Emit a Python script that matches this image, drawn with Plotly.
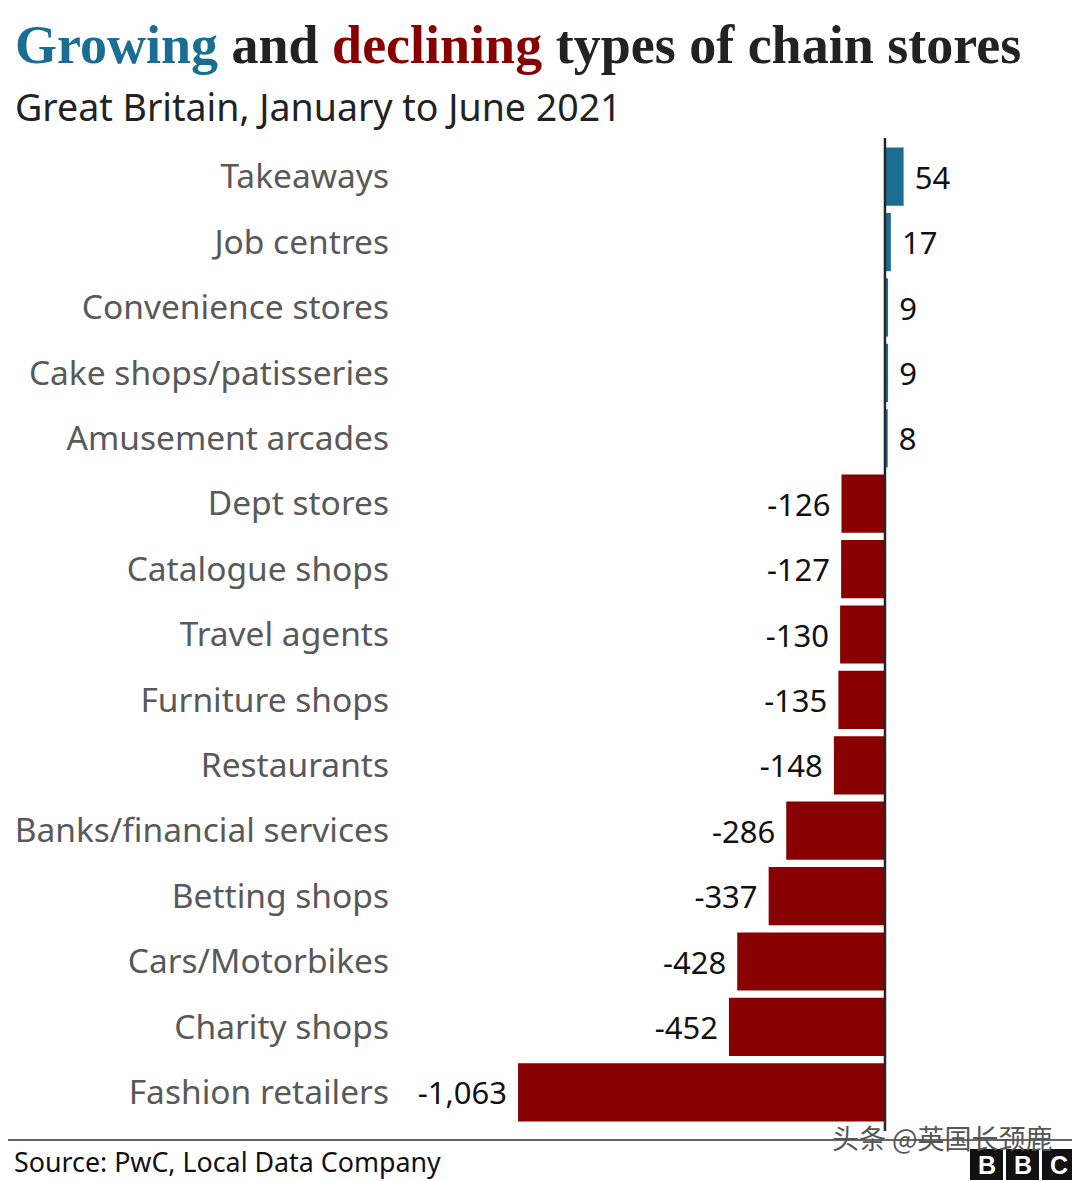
import plotly.graph_objects as go

categories = ["Takeaways", "Job centres", "Convenience stores", "Cake shops/patisseries",
              "Amusement arcades", "Dept stores", "Catalogue shops", "Travel agents",
              "Furniture shops", "Restaurants", "Banks/financial services", "Betting shops",
              "Cars/Motorbikes", "Charity shops", "Fashion retailers"]
values = [54, 17, 9, 9, 8, -126, -127, -130, -135, -148, -286, -337, -428, -452, -1063]

BLUE = "#1a6e93"
RED = "#880000"

colors = [BLUE if v > 0 else RED for v in values]
texts = [(" " + f"{v:,}") if v > 0 else (f"{v:,}" + " ") for v in values]

OFF = 8  # page body margin
W, H = 1080 - OFF, 1181 - OFF
L, R, T, B = 400 - OFF, 0, 144 - OFF, 56
PW, PH = W - L - R, H - T - B

def px(xp):
    return (xp - OFF - L) / PW

def py(yp):
    return (H - B - (yp - OFF)) / PH

fig = go.Figure(go.Bar(
    x=values, y=categories, orientation="h",
    marker=dict(color=colors, line=dict(width=0)),
    text=texts, textposition="outside", cliponaxis=False,
    textfont=dict(family="Noto Sans", size=31, color="#111111"),
))

fig.update_layout(
    width=W, height=H,
    margin=dict(l=L, r=R, t=T, b=B),
    paper_bgcolor="white", plot_bgcolor="white",
    bargap=0.11, showlegend=False,
    xaxis=dict(range=[-1405, 565], visible=False, fixedrange=True),
    yaxis=dict(autorange="reversed", type="category", showgrid=False, zeroline=False,
               showline=False, ticks="", ticklabelstandoff=10,
               tickfont=dict(family="Noto Sans", size=33.5, color="#595959")),
    font=dict(family="Noto Sans"),
)

# zero line
fig.add_shape(type="line", xref="x", yref="paper", x0=0, x1=0,
              y0=py(1131), y1=py(138), line=dict(color="#262626", width=2.5))
# bottom rule
fig.add_shape(type="line", xref="paper", yref="paper", x0=px(0), x1=px(1080),
              y0=py(1140), y1=py(1140), line=dict(color="#333333", width=1.5))

# title
fig.add_annotation(xref="paper", yref="paper", x=px(13), y=py(45), xanchor="left", yanchor="middle",
                   showarrow=False,
                   text=f"<b><span style='color:{BLUE}'>Growing</span> and <span style='color:{RED}'>declining</span> types of chain stores</b>",
                   font=dict(family="Liberation Serif", size=54, color="#222222"))
fig.add_annotation(xref="paper", yref="paper", x=px(13), y=py(107), xanchor="left", yanchor="middle",
                   showarrow=False, text="Great Britain, January to June 2021",
                   font=dict(family="Noto Sans", size=37.5, color="#222222"))
# source
fig.add_annotation(xref="paper", yref="paper", x=px(12), y=py(1161), xanchor="left", yanchor="middle",
                   showarrow=False, text="Source: PwC, Local Data Company",
                   font=dict(family="Noto Sans", size=26.8, color="#111111"))
# watermark
fig.add_annotation(xref="paper", yref="paper", x=px(830), y=py(1137), xanchor="left", yanchor="middle",
                   showarrow=False, text="头条 @英国长颈鹿",
                   font=dict(family="Noto Sans CJK SC", size=27, color="#555555"))
# BBC blocks
for i, letter in enumerate(["B", "B", "C"]):
    x0 = 970 + i * 36
    fig.add_shape(type="rect", xref="paper", yref="paper", x0=px(x0), x1=px(x0 + 33),
                  y0=py(1180), y1=py(1149), fillcolor="#111111", line=dict(width=0))
    fig.add_annotation(xref="paper", yref="paper", x=px(x0 + 16.5), y=py(1165), xanchor="center",
                       yanchor="middle", showarrow=False, text=f"<b>{letter}</b>",
                       font=dict(family="Liberation Sans", size=25, color="white"))

fig.write_html("out.html")
